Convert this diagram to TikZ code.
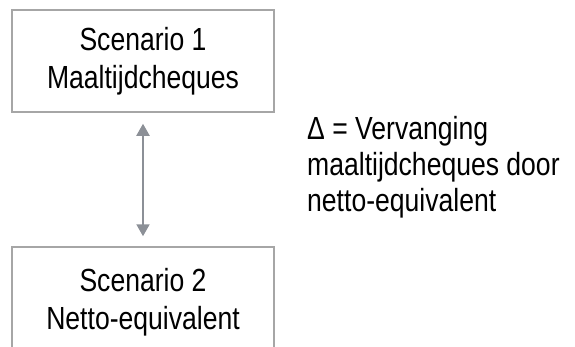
\documentclass[tikz,border=0pt]{standalone}
\usepackage{fontspec}
\setmainfont{Liberation Sans}[FakeStretch=0.83]
\usetikzlibrary{arrows.meta}
\definecolor{boxgray}{HTML}{A6A6A6}
\definecolor{arrowgray}{HTML}{8C9097}

\begin{document}
\begin{tikzpicture}[x=1pt, y=-1pt,
  scenario/.style={shape=rectangle, draw=boxgray, line width=1.5pt, minimum width=262pt, minimum height=102pt,
    align=center, font=\fontsize{32}{38}\selectfont},
  delta/.style={arrowgray, line width=2pt, {Triangle[width=13pt,length=12pt]}-{Triangle[width=13pt,length=12pt]}}]
  \clip (0,0) rectangle (575,346);
  \node[scenario] (s1) at (143,61)  {Scenario 1\\Maaltijdcheques};
  \node[scenario, minimum height=110pt] (s2) at (143,302) {Scenario 2\\Netto-equivalent};
  \draw[delta, shorten <=11pt, shorten >=10pt] (s1) -- (s2);
  \node[anchor=north west, inner sep=0pt, align=left, font=\fontsize{32}{36}\selectfont] (diff) at (307,116)
    {Δ = Vervanging\\maaltijdcheques door\\netto-equivalent};
\end{tikzpicture}
\end{document}
